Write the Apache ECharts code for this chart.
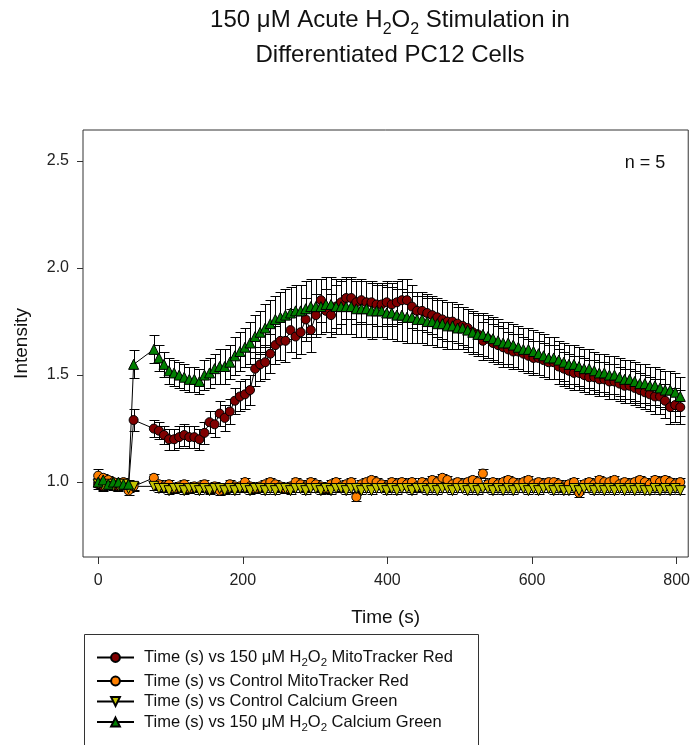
<!DOCTYPE html>
<html>
<head>
<meta charset="utf-8">
<script src="https://cdn.jsdelivr.net/npm/echarts@6/dist/echarts.min.js"></script>
<style>html,body{margin:0;padding:0;background:#fff;}#c{width:693px;height:745px;}</style>
</head>
<body>
<div id="c"></div>
<script>
const FONT = '"Liberation Sans", Arial, sans-serif';

const timeS = [0,7,14,21,28,35,42,49,
 77,84,91,98,105,112,119,126,133,140,
 147,154,161,168,175,182,189,196,203,210,
 217,224,231,238,245,252,259,266,273,280,
 287,294,301,308,315,322,329,336,343,350,
 357,364,371,378,385,392,399,406,413,420,
 427,434,441,448,455,462,469,476,483,490,
 497,504,511,518,525,532,539,546,553,560,
 567,574,581,588,595,602,609,616,623,630,
 637,644,651,658,665,672,679,686,693,700,
 707,714,721,728,735,742,749,756,763,770,
 777,784,791,798,805];

const h2o2Mito = [0.99,0.98,1.00,0.99,0.98,0.99,0.98,1.29,
 1.25,1.24,1.22,1.20,1.20,1.21,1.22,1.21,1.21,1.20,
 1.23,1.28,1.27,1.32,1.30,1.33,1.38,1.40,1.41,1.43,
 1.53,1.55,1.56,1.60,1.64,1.66,1.66,1.71,1.68,1.70,
 1.76,1.71,1.78,1.85,1.80,1.78,1.82,1.84,1.86,1.86,
 1.84,1.85,1.84,1.84,1.83,1.83,1.84,1.83,1.84,1.85,
 1.85,1.82,1.80,1.80,1.79,1.78,1.77,1.76,1.75,1.75,
 1.74,1.73,1.72,1.70,1.69,1.66,1.67,1.65,1.64,1.63,
 1.62,1.61,1.61,1.60,1.59,1.58,1.58,1.57,1.56,1.56,
 1.54,1.53,1.52,1.51,1.51,1.50,1.49,1.49,1.48,1.48,
 1.47,1.47,1.46,1.45,1.45,1.44,1.43,1.42,1.41,1.40,
 1.40,1.38,1.35,1.36,1.35];
const h2o2MitoErr = [0.02,0.02,0.02,0.02,0.02,0.02,0.02,0.05,
 0.04,0.04,0.04,0.05,0.05,0.05,0.05,0.05,0.05,0.05,
 0.05,0.05,0.06,0.06,0.06,0.06,0.06,0.07,0.07,0.07,
 0.08,0.08,0.08,0.09,0.09,0.09,0.10,0.10,0.10,0.10,
 0.10,0.10,0.10,0.10,0.10,0.10,0.10,0.10,0.10,0.10,
 0.10,0.10,0.10,0.10,0.10,0.10,0.10,0.10,0.10,0.10,
 0.10,0.10,0.09,0.09,0.09,0.09,0.09,0.09,0.09,0.09,
 0.09,0.09,0.09,0.09,0.09,0.09,0.09,0.09,0.09,0.09,
 0.08,0.08,0.08,0.08,0.08,0.08,0.08,0.08,0.08,0.08,
 0.08,0.08,0.08,0.08,0.08,0.08,0.08,0.08,0.08,0.08,
 0.08,0.08,0.08,0.08,0.08,0.08,0.08,0.08,0.08,0.08,
 0.08,0.08,0.08,0.08,0.08];

const ctrlMito = [1.03,1.02,1.01,1.00,0.99,1.00,0.96,0.98,
 1.02,0.99,0.98,0.99,0.97,0.98,0.99,0.97,0.98,0.98,
 0.99,0.97,0.98,0.96,0.97,0.99,0.98,0.98,1.00,0.98,
 0.97,0.98,0.99,1.00,0.99,0.98,0.97,0.98,1.00,0.99,
 0.98,1.00,0.99,0.98,0.97,0.99,1.00,0.98,0.99,1.00,
 0.93,0.99,1.00,1.01,1.00,0.99,0.98,1.00,0.99,1.00,
 0.99,1.00,0.98,1.00,0.99,1.01,1.00,1.02,1.01,0.99,
 1.00,0.99,1.00,1.01,1.00,1.04,0.99,1.00,0.99,1.00,
 1.01,1.00,0.99,1.00,1.01,0.99,1.00,0.99,1.00,1.00,
 0.99,0.98,0.99,1.00,0.95,0.99,1.00,0.99,1.01,1.00,
 1.00,1.01,0.99,1.00,0.99,1.00,1.01,1.00,0.99,1.01,
 1.00,1.01,1.00,0.99,1.00];
const ctrlMitoErr = [0.03,0.02,0.02,0.02,0.02,0.02,0.02,0.02,
 0.02,0.02,0.02,0.02,0.02,0.02,0.02,0.02,0.02,0.02,
 0.02,0.02,0.02,0.02,0.02,0.02,0.02,0.02,0.02,0.02,
 0.02,0.02,0.02,0.02,0.02,0.02,0.02,0.02,0.02,0.02,
 0.02,0.02,0.02,0.02,0.02,0.02,0.02,0.02,0.02,0.02,
 0.02,0.02,0.02,0.02,0.02,0.02,0.02,0.02,0.02,0.02,
 0.02,0.02,0.02,0.02,0.02,0.02,0.02,0.02,0.02,0.02,
 0.02,0.02,0.02,0.02,0.02,0.02,0.02,0.02,0.02,0.02,
 0.02,0.02,0.02,0.02,0.02,0.02,0.02,0.02,0.02,0.02,
 0.02,0.02,0.02,0.02,0.02,0.02,0.02,0.02,0.02,0.02,
 0.02,0.02,0.02,0.02,0.02,0.02,0.02,0.02,0.02,0.02,
 0.02,0.02,0.02,0.02,0.02];

const ctrlCa = [0.99,0.98,0.99,0.98,0.98,0.99,0.97,0.98,
 0.98,0.97,0.97,0.96,0.97,0.97,0.96,0.97,0.97,0.96,
 0.97,0.96,0.97,0.97,0.96,0.97,0.96,0.97,0.97,0.96,
 0.97,0.97,0.96,0.97,0.96,0.97,0.97,0.96,0.97,0.97,
 0.96,0.97,0.97,0.96,0.97,0.96,0.97,0.97,0.96,0.97,
 0.97,0.96,0.97,0.96,0.97,0.97,0.96,0.97,0.96,0.97,
 0.97,0.96,0.97,0.97,0.96,0.97,0.96,0.97,0.97,0.96,
 0.97,0.97,0.96,0.97,0.96,0.97,0.97,0.96,0.97,0.96,
 0.97,0.96,0.97,0.97,0.96,0.97,0.96,0.97,0.97,0.96,
 0.97,0.96,0.96,0.97,0.96,0.97,0.97,0.96,0.97,0.96,
 0.97,0.96,0.97,0.96,0.97,0.96,0.97,0.96,0.96,0.97,
 0.96,0.97,0.96,0.97,0.96];
const ctrlCaErr = [0.015,0.015,0.015,0.015,0.015,0.015,0.015,0.015,
 0.015,0.015,0.015,0.015,0.015,0.015,0.015,0.015,0.015,0.015,
 0.015,0.015,0.015,0.015,0.015,0.015,0.015,0.015,0.015,0.015,
 0.015,0.015,0.015,0.015,0.015,0.015,0.015,0.015,0.015,0.015,
 0.015,0.015,0.015,0.015,0.015,0.015,0.015,0.015,0.015,0.015,
 0.015,0.015,0.015,0.015,0.015,0.015,0.015,0.015,0.015,0.015,
 0.015,0.015,0.015,0.015,0.015,0.015,0.015,0.015,0.015,0.015,
 0.015,0.015,0.015,0.015,0.015,0.015,0.015,0.015,0.015,0.015,
 0.015,0.015,0.015,0.015,0.015,0.015,0.015,0.015,0.015,0.015,
 0.015,0.015,0.015,0.015,0.015,0.015,0.015,0.015,0.015,0.015,
 0.015,0.015,0.015,0.015,0.015,0.015,0.015,0.015,0.015,0.015,
 0.015,0.015,0.015,0.015,0.015];

const h2o2Ca = [1.00,1.01,0.99,1.00,1.00,0.99,0.99,1.55,
 1.62,1.58,1.55,1.52,1.51,1.50,1.49,1.48,1.48,1.47,
 1.50,1.51,1.53,1.54,1.54,1.56,1.59,1.61,1.63,1.65,
 1.68,1.70,1.72,1.74,1.76,1.77,1.78,1.79,1.80,1.80,
 1.81,1.82,1.82,1.82,1.83,1.83,1.82,1.82,1.82,1.82,
 1.81,1.81,1.81,1.80,1.80,1.80,1.79,1.79,1.78,1.78,
 1.77,1.77,1.76,1.76,1.75,1.75,1.74,1.74,1.73,1.73,
 1.72,1.72,1.71,1.70,1.69,1.69,1.68,1.67,1.66,1.65,
 1.65,1.64,1.63,1.62,1.62,1.61,1.60,1.59,1.58,1.58,
 1.57,1.56,1.55,1.55,1.54,1.53,1.53,1.52,1.51,1.51,
 1.50,1.50,1.49,1.48,1.48,1.47,1.46,1.46,1.45,1.45,
 1.44,1.43,1.43,1.42,1.40];
const h2o2CaErr = [0.02,0.02,0.02,0.02,0.02,0.02,0.02,0.065,
 0.065,0.06,0.06,0.06,0.06,0.06,0.06,0.06,0.06,0.06,
 0.07,0.07,0.07,0.08,0.08,0.08,0.09,0.09,0.09,0.10,
 0.10,0.10,0.11,0.11,0.11,0.12,0.12,0.12,0.12,0.12,
 0.13,0.13,0.13,0.13,0.13,0.13,0.13,0.13,0.13,0.13,
 0.13,0.13,0.13,0.13,0.12,0.12,0.12,0.12,0.12,0.12,
 0.12,0.12,0.11,0.11,0.11,0.11,0.11,0.11,0.11,0.11,
 0.10,0.10,0.10,0.10,0.10,0.10,0.10,0.10,0.10,0.10,
 0.10,0.10,0.10,0.10,0.10,0.10,0.10,0.10,0.10,0.10,
 0.09,0.09,0.09,0.09,0.09,0.09,0.09,0.09,0.09,0.09,
 0.09,0.09,0.09,0.09,0.09,0.09,0.09,0.09,0.09,0.09,
 0.09,0.09,0.09,0.09,0.09];

const xTicks = [0, 200, 400, 600, 800];
const yTicks = [1.0, 1.5, 2.0, 2.5];

const seriesNames = [
  'Time (s) vs 150 μM H2O2 MitoTracker Red',
  'Time (s) vs Control MitoTracker Red',
  'Time (s) vs Control Calcium Green',
  'Time (s) vs 150 μM H2O2 Calcium Green'
];
const seriesColors = ['#800000', '#ff8000', '#c4c400', '#008000'];
const seriesSymbols = ['circle', 'circle', 'triangle', 'triangle'];
const seriesRotate = [0, 0, 180, 0];
const seriesValues = [h2o2Mito, ctrlMito, ctrlCa, h2o2Ca];
const seriesErrors = [h2o2MitoErr, ctrlMitoErr, ctrlCaErr, h2o2CaErr];

function errRender(params, api) {
  const x = api.value(0), y = api.value(1), e = api.value(2);
  const top = api.coord([x, y + e]);
  const bot = api.coord([x, y - e]);
  const px = Math.round(top[0]) + 0.5;
  const ty = Math.round(top[1]) + 0.5, by = Math.round(bot[1]) + 0.5;
  const hw = 5;
  const st = { stroke: '#000', lineWidth: 1 };
  return { type: 'group', children: [
    { type: 'line', shape: { x1: px, y1: ty, x2: px, y2: by }, style: st },
    { type: 'line', shape: { x1: px - hw, y1: ty, x2: px + hw, y2: ty }, style: st },
    { type: 'line', shape: { x1: px - hw, y1: by, x2: px + hw, y2: by }, style: st }
  ]};
}

const series = [];
seriesNames.forEach((name, i) => {
  const vals = seriesValues[i], errs = seriesErrors[i];
  series.push({
    type: 'custom', name: 'err' + i, renderItem: errRender, silent: true,
    data: timeS.map((t, k) => [t, vals[k], errs[k]]),
    encode: { x: 0, y: 1 }
  });
  series.push({
    type: 'line', name: name, silent: true,
    data: timeS.map((t, k) => [t, vals[k]]),
    symbol: seriesSymbols[i], symbolRotate: seriesRotate[i],
    symbolSize: seriesSymbols[i] === 'circle' ? 9 : 10,
    itemStyle: { color: seriesColors[i], borderColor: '#000', borderWidth: 1 },
    lineStyle: { color: '#000', width: 1 },
    emphasis: { disabled: true }
  });
});

const chart = echarts.init(document.getElementById('c'), null, { renderer: 'canvas' });
chart.setOption({
  animation: false,
  backgroundColor: '#fff',
  textStyle: { fontFamily: FONT },
  grid: { left: 83, right: 2, top: 130, bottom: 188, show: true, borderColor: '#333', borderWidth: 1, backgroundColor: 'transparent' },
  xAxis: {
    type: 'value', min: -21, max: 816,
    name: 'Time (s)', nameLocation: 'middle', nameGap: 51,
    nameTextStyle: { fontSize: 19, color: '#111', fontFamily: FONT },
    axisLine: { show: false, onZero: false },
    splitLine: { show: false },
    axisTick: { show: true, length: 7, lineStyle: { color: '#333' }, customValues: xTicks },
    axisLabel: { fontSize: 16, color: '#222', margin: 16, fontFamily: FONT, customValues: xTicks }
  },
  yAxis: {
    type: 'value', min: 0.65, max: 2.645,
    name: 'Intensity', nameLocation: 'middle', nameGap: 52, nameRotate: 90,
    nameTextStyle: { fontSize: 19, color: '#111', fontFamily: FONT },
    axisLine: { show: false, onZero: false },
    splitLine: { show: false },
    axisTick: { show: true, length: 6, lineStyle: { color: '#333' }, customValues: yTicks },
    axisLabel: { fontSize: 16, color: '#222', margin: 14, fontFamily: FONT, customValues: yTicks,
      formatter: v => Number(v).toFixed(1) }
  },
  legend: {
    data: seriesNames, orient: 'vertical', left: 96, top: 649, padding: 0,
    itemWidth: 37, itemHeight: 11, itemGap: 3.5,
    formatter: n => n.replace('H2O2', 'H{s|2}O{s|2}'),
    textStyle: { fontSize: 16.5, color: '#111', fontFamily: FONT, lineHeight: 17, padding: [0, 0, 0, 5],
      rich: { s: { fontSize: 11.5, fontFamily: FONT, color: '#111', lineHeight: 17, padding: [7, 0, -4, 0] } } },
    selectedMode: false
  },
  graphic: [
    { type: 'rect', shape: { x: 84.5, y: 634.5, width: 394, height: 140 }, style: { fill: 'none', stroke: '#333', lineWidth: 1 }, silent: true },
    { type: 'text', x: 390, y: 3, silent: true,
      style: { text: '150 μM Acute H{s|2}O{s|2} Stimulation in\nDifferentiated PC12 Cells',
        align: 'center', verticalAlign: 'top', fontSize: 24, fontFamily: FONT, fill: '#111', lineHeight: 35,
        rich: { s: { fontSize: 16, fontFamily: FONT, fill: '#111', verticalAlign: 'bottom', lineHeight: 17 } } } },
    { type: 'text', x: 645, y: 163, silent: true,
      style: { text: 'n = 5', align: 'center', verticalAlign: 'middle', fontSize: 18, fontFamily: FONT, fill: '#111' } }
  ],
  series: series
});
</script>
</body>
</html>
